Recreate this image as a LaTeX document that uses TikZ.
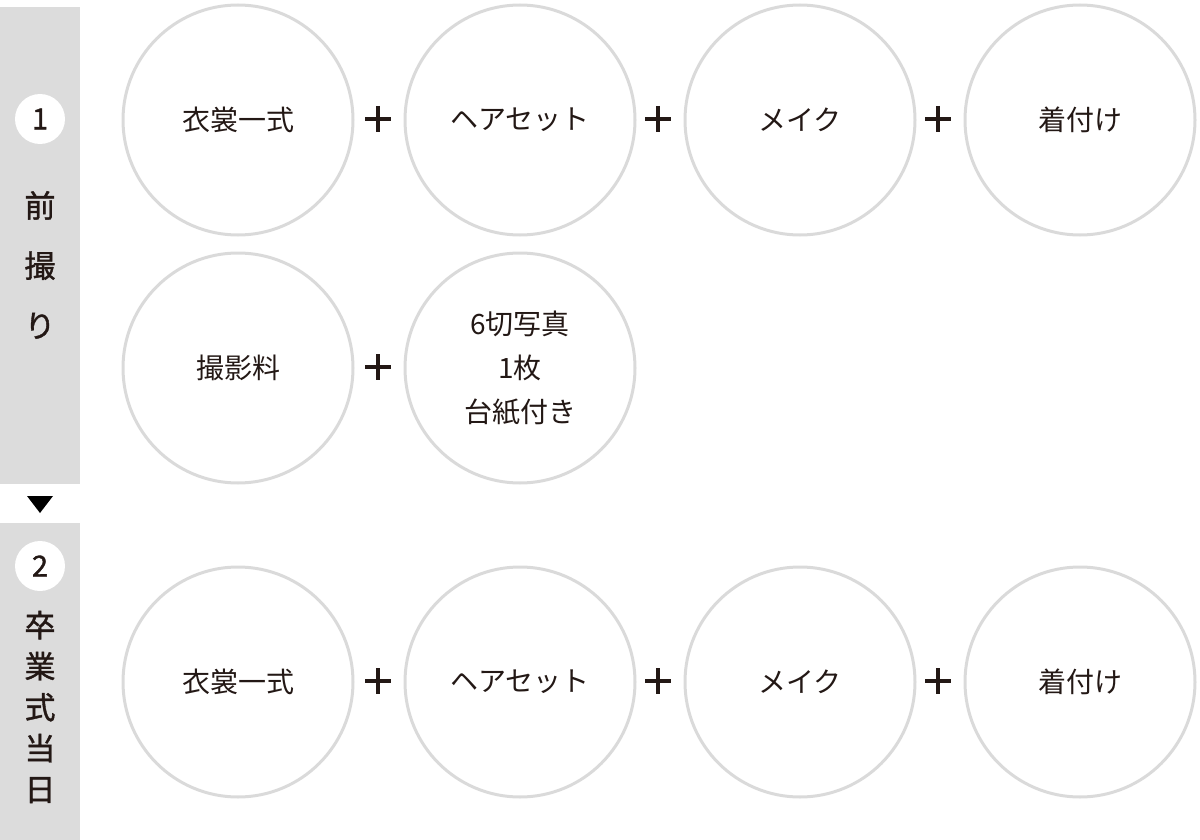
\documentclass[tikz,border=0pt]{standalone}
\usepackage{fontspec}
\setmainfont{Noto Sans CJK JP}
\newfontfamily\sidefont[FakeBold=1.2]{Noto Sans CJK JP}
\definecolor{barcol}{HTML}{DCDCDC}
\definecolor{ringcol}{HTML}{DADADA}
\definecolor{ink}{HTML}{231815}
\tikzset{
	item/.style={circle, draw=ringcol, line width=3pt, minimum size=230pt, inner sep=0pt,
		text=ink, align=center, font=\fontsize{28}{44}\selectfont},
	plus/.style={minimum size=26pt, inner sep=0pt,
		path picture={\draw[ink, line width=4pt]
			(path picture bounding box.west) -- (path picture bounding box.east)
			(path picture bounding box.north) -- (path picture bounding box.south);}},
	num/.style={circle, fill=white, minimum size=50pt, inner sep=0pt, text=ink,
		font=\sidefont\fontsize{29}{29}\selectfont},
	side/.style={align=center, text=ink}
}
\begin{document}
\begin{tikzpicture}[x=1pt, y=-1pt]
	\useasboundingbox (0,0) rectangle (1200,840);
	% side bars
	\fill[barcol] (0,7) rectangle (80,484);
	\fill[barcol] (0,523) rectangle (80,840);
	\fill[black] (27,496) -- (53,496) -- (40,513) -- cycle;
	\node[num] (n1) at (40,119) {1};
	\node[num] (n2) at (40,566) {2};
	\node[side, font=\sidefont\fontsize{31}{60}\selectfont] (s1) at (40,265) {前\\撮\\り};
	\node[side, font=\sidefont\fontsize{31}{41}\selectfont] (s2) at (40,707) {卒\\業\\式\\当\\日};
	% first row
	\node[item] (a1) at (238,120) {衣裳一式};
	\node[item] (a2) at (520,120) {ヘアセット};
	\node[item] (a3) at (800,120) {メイク};
	\node[item] (a4) at (1080,120) {着付け};
	\node[plus] (pa1) at (378,119) {};
	\node[plus] (pa2) at (658,119) {};
	\node[plus] (pa3) at (938,119) {};
	% second row
	\node[item] (b1) at (238,368) {撮影料};
	\node[item] (b2) at (520,368) {6切写真\\1枚\\台紙付き};
	\node[plus] (pb1) at (378,367) {};
	% third row
	\node[item] (c1) at (238,682) {衣裳一式};
	\node[item] (c2) at (520,682) {ヘアセット};
	\node[item] (c3) at (800,682) {メイク};
	\node[item] (c4) at (1080,682) {着付け};
	\node[plus] (pc1) at (378,681) {};
	\node[plus] (pc2) at (658,681) {};
	\node[plus] (pc3) at (938,681) {};
\end{tikzpicture}
\end{document}
